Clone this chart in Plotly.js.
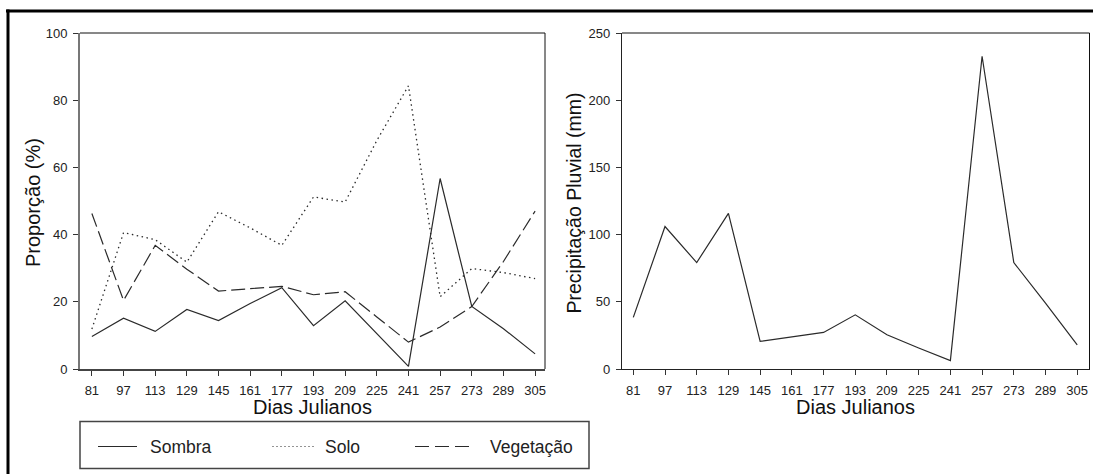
<!DOCTYPE html>
<html>
<head>
<meta charset="utf-8">
<script src="https://cdn.plot.ly/plotly-3.0.1.min.js"></script>
<style>html,body{margin:0;padding:0;background:#fff;}#chart{width:1093px;height:474px;}</style>
</head>
<body>
<div id="chart"></div>
<script>
// ---- data ----
const dias = [81, 97, 113, 129, 145, 161, 177, 193, 209, 225, 241, 257, 273, 289, 305];
const sombra    = [9.7, 15.1, 11.2, 17.7, 14.4, 19.5, 24.2, 12.9, 20.3, 10.5, 0.8, 56.7, 18.6, 12.0, 4.5];
const solo      = [11.9, 40.6, 38.5, 31.8, 46.8, 42.0, 36.8, 51.2, 49.7, 68.0, 84.3, 21.5, 29.9, 28.7, 26.9];
const vegetacao = [46.3, 20.4, 36.8, 29.7, 23.2, 23.9, 24.6, 22.1, 23.0, 15.5, 8.0, 12.5, 18.6, 32.0, 47.0];
const precipitacao = [38.4, 106.0, 79.2, 115.8, 20.5, 23.8, 27.2, 40.3, 25.5, 15.6, 6.2, 232.7, 79.2, 49.0, 18.0];
const serieNomes = ["Sombra", "Solo", "Vegetação"];
const tituloX = "Dias Julianos";
const tituloY1 = "Proporção (%)";
const tituloY2 = "Precipitação Pluvial (mm)";

// ---- layout helpers (pixel -> paper) ----
const W = 1093, H = 474;
const px = x => x / W;
const py = y => 1 - y / H;

const FONT = "Liberation Sans, Arial, sans-serif";
const LINEC = "#2a2a2a";
const dashes = ["solid", "1.5px,3.5px", "14px,5px"];

const traces = [
  {x: dias, y: sombra, name: serieNomes[0], xaxis: "x", yaxis: "y", mode: "lines",
   line: {color: LINEC, width: 1.2, dash: dashes[0]}},
  {x: dias, y: solo, name: serieNomes[1], xaxis: "x", yaxis: "y", mode: "lines",
   line: {color: LINEC, width: 1.3, dash: dashes[1]}},
  {x: dias, y: vegetacao, name: serieNomes[2], xaxis: "x", yaxis: "y", mode: "lines",
   line: {color: LINEC, width: 1.2, dash: dashes[2]}},
  {x: dias, y: precipitacao, name: "Precipitação", xaxis: "x2", yaxis: "y2", mode: "lines",
   line: {color: LINEC, width: 1.2}}
];

const tickFont = {family: FONT, size: 13, color: "#222"};
const xCommon = {
  tickmode: "array", tickvals: dias, ticktext: dias.map(String),
  ticks: "outside", ticklen: 5, tickwidth: 1, tickcolor: "#333",
  showgrid: false, zeroline: false, showline: true, linecolor: "#444", linewidth: 1.5,
  tickfont: tickFont, ticklabelstandoff: 4, fixedrange: true
};
const yCommon = {
  ticks: "outside", ticklen: 5, tickwidth: 1, tickcolor: "#333",
  showgrid: false, zeroline: false, showline: true, linecolor: "#777", linewidth: 2,
  tickfont: tickFont, ticklabelstandoff: 3, fixedrange: true
};

const L1 = 80, R1 = 545, T = 33, B = 369;
const L2 = 622, R2 = 1089.5;

const layout = {
  width: W, height: H,
  margin: {l: 0, r: 0, t: 0, b: 0},
  paper_bgcolor: "#fff", plot_bgcolor: "#fff",
  showlegend: false,
  font: {family: FONT, color: "#222"},
  xaxis: Object.assign({}, xCommon, {domain: [px(L1), px(R1)], range: [75.0, 310.0], anchor: "y"}),
  yaxis: Object.assign({}, yCommon, {domain: [py(B), py(T)], range: [0, 100], dtick: 20, tick0: 0, anchor: "x"}),
  xaxis2: Object.assign({}, xCommon, {domain: [px(L2), px(R2)], range: [75.3, 311.2], anchor: "y2", linecolor: "#222", linewidth: 1.2}),
  yaxis2: Object.assign({}, yCommon, {domain: [py(B), py(T)], range: [0, 250], dtick: 50, tick0: 0, anchor: "x2", linecolor: "#222", linewidth: 1.2}),
  shapes: [
    // outer frame (top and left)
    {type: "line", xref: "paper", yref: "paper", x0: px(6), x1: 1, y0: py(11), y1: py(11), line: {color: "#000", width: 3}},
    {type: "line", xref: "paper", yref: "paper", x0: px(8), x1: px(8), y0: py(9.5), y1: 0, line: {color: "#000", width: 3}},
    // top/right borders of plots
    {type: "line", xref: "x domain", yref: "y domain", x0: 0, x1: 1, y0: 1, y1: 1, line: {color: "#111", width: 1}},
    {type: "line", xref: "x domain", yref: "y domain", x0: 1, x1: 1, y0: 0, y1: 1, line: {color: "#111", width: 1}},
    {type: "line", xref: "x2 domain", yref: "y2 domain", x0: 0, x1: 1, y0: 1, y1: 1, line: {color: "#111", width: 1}},
    {type: "line", xref: "x2 domain", yref: "y2 domain", x0: 1, x1: 1, y0: 0, y1: 1, line: {color: "#111", width: 1}},
    // legend box
    {type: "rect", xref: "paper", yref: "paper", x0: px(80), x1: px(589), y0: py(468.5), y1: py(421.5),
     line: {color: "#444", width: 1.5}, fillcolor: "rgba(0,0,0,0)"},
    // legend samples
    {type: "line", xref: "paper", yref: "paper", x0: px(98), x1: px(137), y0: py(446.5), y1: py(446.5),
     line: {color: LINEC, width: 1.2, dash: dashes[0]}},
    {type: "line", xref: "paper", yref: "paper", x0: px(272.5), x1: px(314), y0: py(446.5), y1: py(446.5),
     line: {color: LINEC, width: 1.2, dash: "1px,3px"}},
    {type: "line", xref: "paper", yref: "paper", x0: px(415), x1: px(469), y0: py(446.5), y1: py(446.5),
     line: {color: LINEC, width: 1.2, dash: "14px,6px"}}
  ],
  annotations: [
    {text: tituloX, xref: "paper", yref: "paper", x: px((L1 + R1) / 2), y: py(406.7), showarrow: false,
     xanchor: "center", yanchor: "middle", font: {family: FONT, size: 20, color: "#111"}},
    {text: tituloX, xref: "paper", yref: "paper", x: px((L2 + R2) / 2), y: py(406.7), showarrow: false,
     xanchor: "center", yanchor: "middle", font: {family: FONT, size: 20, color: "#111"}},
    {text: tituloY1, xref: "paper", yref: "paper", x: px(33), y: py(203), showarrow: false, textangle: -90,
     xanchor: "center", yanchor: "middle", font: {family: FONT, size: 20, color: "#111"}},
    {text: tituloY2, xref: "paper", yref: "paper", x: px(573.5), y: py(203), showarrow: false, textangle: -90,
     xanchor: "center", yanchor: "middle", font: {family: FONT, size: 19.5, color: "#111"}},
    {text: serieNomes[0], xref: "paper", yref: "paper", x: px(148), y: py(446.5), showarrow: false,
     xanchor: "left", yanchor: "middle", font: {family: FONT, size: 17.5, color: "#222"}},
    {text: serieNomes[1], xref: "paper", yref: "paper", x: px(323), y: py(446.5), showarrow: false,
     xanchor: "left", yanchor: "middle", font: {family: FONT, size: 17.5, color: "#222"}},
    {text: serieNomes[2], xref: "paper", yref: "paper", x: px(488), y: py(446.5), showarrow: false,
     xanchor: "left", yanchor: "middle", font: {family: FONT, size: 17.5, color: "#222"}}
  ]
};

Plotly.newPlot("chart", traces, layout, {staticPlot: true, displayModeBar: false});
</script>
</body>
</html>
